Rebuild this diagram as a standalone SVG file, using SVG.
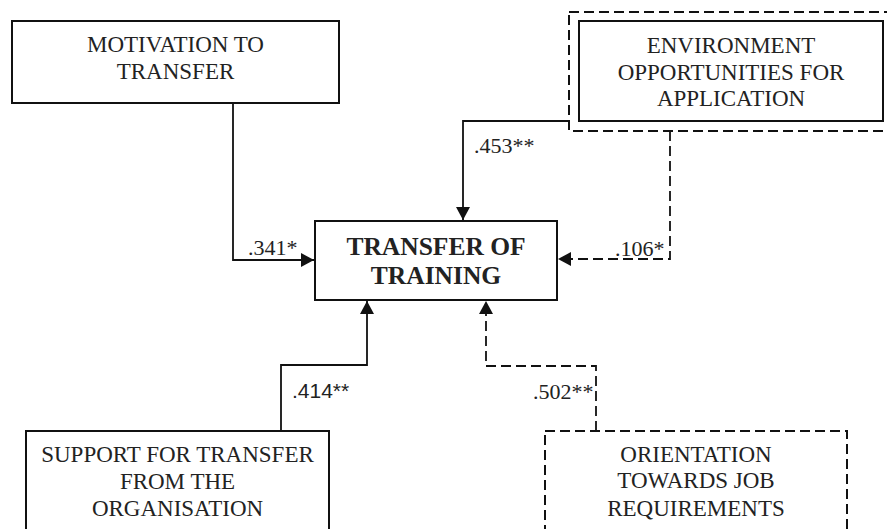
<svg xmlns="http://www.w3.org/2000/svg" width="887" height="529" viewBox="0 0 887 529">
<defs>
<style>
.box{fill:#fff;stroke:#111;stroke-width:2}
.dash{stroke-dasharray:10 5}
.ln{fill:none;stroke:#111;stroke-width:1.8}
.t{font-family:"Liberation Serif","Times New Roman",serif;font-size:23px;fill:#222;text-anchor:middle}
.tb{font-family:"Liberation Serif","Times New Roman",serif;font-size:25.5px;font-weight:bold;fill:#222;text-anchor:middle}
.lbl{font-family:"Liberation Serif","Times New Roman",serif;font-size:22px;fill:#222}
.lbs{font-family:"Liberation Sans",Arial,sans-serif;font-size:21px;fill:#222}
</style>
<marker id="arr" markerUnits="userSpaceOnUse" markerWidth="14" markerHeight="14" refX="13" refY="7" orient="auto">
<path d="M0,0 L13,7 L0,14 z" fill="#111"/>
</marker>
</defs>
<rect width="887" height="529" fill="#fff"/>
<g id="connectors">
<path class="ln" d="M233,103 V260 H314" marker-end="url(#arr)"/>
<path class="ln" d="M579,121 H463 V220" marker-end="url(#arr)"/>
<path class="ln dash" d="M670,131 V259 H558" marker-end="url(#arr)"/>
<path class="ln" d="M281,431 V365 H367 V301" marker-end="url(#arr)"/>
<path class="ln dash" d="M596,431 V366 H486 V301" marker-end="url(#arr)"/>
<text class="lbl" x="248" y="255">.341*</text>
<text class="lbl" x="474" y="153">.453**</text>
<text class="lbl" x="615" y="256">.106*</text>
<text class="lbs" x="292" y="398">.414**</text>
<text class="lbl" x="533" y="399">.502**</text>
</g>
<g id="motivation">
<rect class="box" x="12" y="21" width="327" height="82"/>
<text class="t" x="175.5" y="52">MOTIVATION TO</text>
<text class="t" x="175.5" y="79">TRANSFER</text>
</g>
<g id="environment">
<rect class="box dash" x="569" y="12" width="330" height="119" fill="none"/>
<rect class="box" x="579" y="21" width="304" height="100"/>
<text class="t" x="731" y="53">ENVIRONMENT</text>
<text class="t" x="731" y="80">OPPORTUNITIES FOR</text>
<text class="t" x="731" y="106">APPLICATION</text>
</g>
<g id="transfer">
<rect class="box" x="315" y="221" width="242" height="79"/>
<text class="tb" x="436" y="255">TRANSFER OF</text>
<text class="tb" x="436" y="284">TRAINING</text>
</g>
<g id="support">
<rect class="box" x="26" y="431" width="303" height="110"/>
<text class="t" x="177.5" y="462">SUPPORT FOR TRANSFER</text>
<text class="t" x="177.5" y="489">FROM THE</text>
<text class="t" x="177.5" y="516">ORGANISATION</text>
</g>
<g id="orientation">
<rect class="box dash" x="545" y="431" width="302" height="110"/>
<text class="t" x="696" y="462">ORIENTATION</text>
<text class="t" x="696" y="488">TOWARDS JOB</text>
<text class="t" x="696" y="516">REQUIREMENTS</text>
</g>
</svg>
